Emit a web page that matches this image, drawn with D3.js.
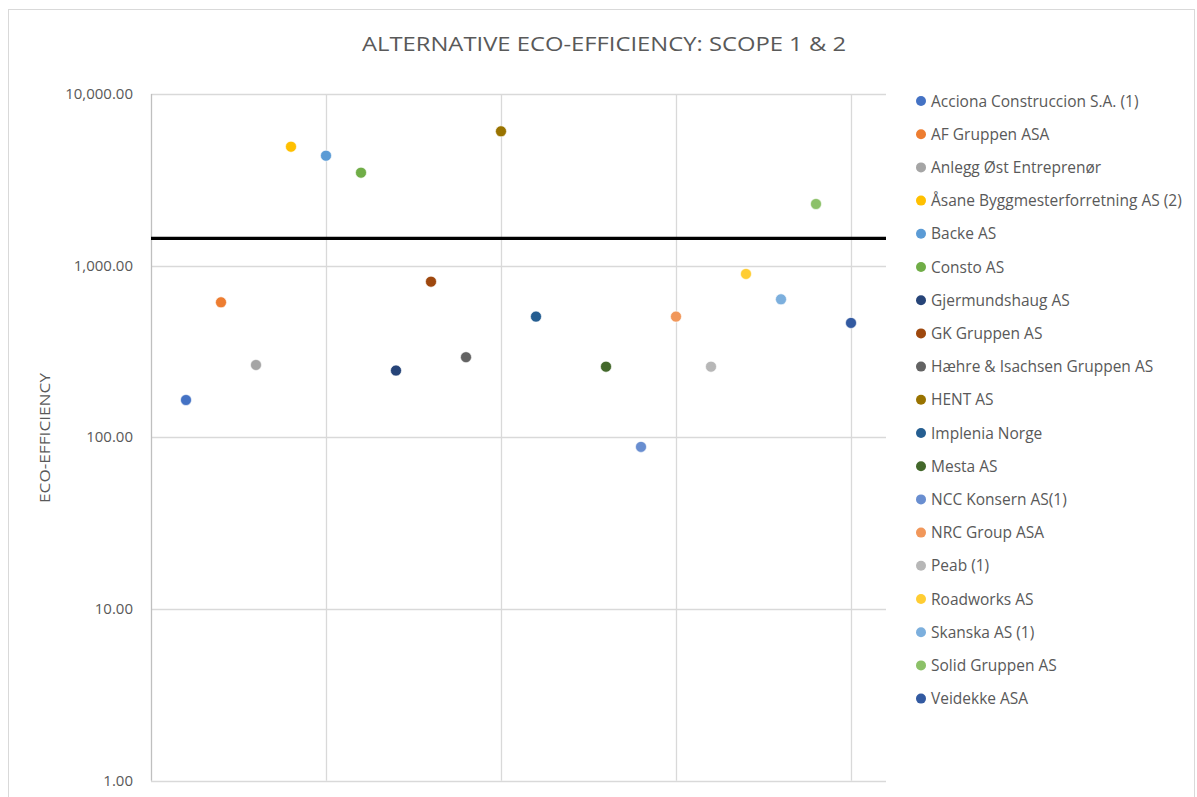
<!DOCTYPE html>
<html>
<head>
<meta charset="utf-8">
<script src="https://cdn.jsdelivr.net/npm/d3@7"></script>
<style>
  html, body { margin: 0; padding: 0; background: #fff; }
  svg { display: block; font-family: "Open Sans", "Noto Sans", sans-serif; }
</style>
</head>
<body>
<svg id="chart" width="1197" height="797"></svg>
<script>
// ---- data ----
const companies = [
  "Acciona Construccion S.A. (1)", "AF Gruppen ASA", "Anlegg Øst Entreprenør",
  "Åsane Byggmesterforretning AS (2)", "Backe AS", "Consto AS", "Gjermundshaug AS",
  "GK Gruppen AS", "Hæhre & Isachsen Gruppen AS", "HENT AS", "Implenia Norge",
  "Mesta AS", "NCC Konsern AS(1)", "NRC Group ASA", "Peab (1)", "Roadworks AS",
  "Skanska AS (1)", "Solid Gruppen AS", "Veidekke ASA"
];
const xIndex = [1, 2, 3, 4, 5, 6, 7, 8, 9, 10, 11, 13, 14, 15, 16, 17, 18, 19, 20];
const ecoEfficiency = [165, 612, 264, 4930, 4370, 3480, 245, 807, 293, 6065, 505,
                       258, 88, 505, 258, 895, 637, 2287, 464];
const seriesColors = [
  "#4472C4", "#ED7D31", "#A5A5A5", "#FFC000", "#5B9BD5", "#70AD47",
  "#264478", "#9E480E", "#636363", "#997300", "#255E91", "#43682B",
  "#698ED0", "#F1975A", "#B7B7B7", "#FFCD33", "#7CAFDD", "#8CC168", "#335AA1"
];
const thresholdValue = 1444;
const yTicks = [1, 10, 100, 1000, 10000];
const xGridTicks = [5, 10, 15, 20];
const titleText = "ALTERNATIVE ECO-EFFICIENCY: SCOPE 1 & 2";
const yAxisTitle = "ECO-EFFICIENCY";

// ---- layout ----
const svg = d3.select("#chart");
const plot = { left: 151, right: 886, top: 94, bottom: 780.7 };
const textColor = "#595959";
const gridColor = "#D9D9D9";

// chart border
svg.append("rect")
  .attr("x", 8.5).attr("y", 9.5).attr("width", 1186).attr("height", 800)
  .attr("fill", "#fff").attr("stroke", "#D9D9D9").attr("stroke-width", 1);

const x = d3.scaleLinear().domain([0, 21]).range([plot.left, plot.right]);
const y = d3.scaleLog().domain([1, 10000]).range([plot.bottom, plot.top]);

// horizontal gridlines
svg.append("g").selectAll("line").data(yTicks).join("line")
  .attr("x1", plot.left).attr("x2", plot.right)
  .attr("y1", d => Math.round(y(d)) + 0.5).attr("y2", d => Math.round(y(d)) + 0.5)
  .attr("stroke", gridColor).attr("stroke-width", 1.3);

// vertical gridlines
svg.append("g").selectAll("line").data(xGridTicks).join("line")
  .attr("x1", d => Math.round(x(d)) + 0.5).attr("x2", d => Math.round(x(d)) + 0.5)
  .attr("y1", plot.top).attr("y2", plot.bottom)
  .attr("stroke", gridColor).attr("stroke-width", 1.3);

// left axis line
svg.append("line")
  .attr("x1", Math.round(x(0)) + 0.5).attr("x2", Math.round(x(0)) + 0.5)
  .attr("y1", plot.top).attr("y2", plot.bottom)
  .attr("stroke", "#BFBFBF").attr("stroke-width", 1.3);

// y axis labels
const fmt = d3.format(",.2f");
svg.append("g").selectAll("text").data(yTicks).join("text")
  .attr("x", 133).attr("y", d => y(d) + 5)
  .attr("text-anchor", "end")
  .attr("font-size", 15).attr("fill", textColor)
  .text(d => fmt(d));

// y axis title
svg.append("text")
  .attr("transform", "translate(50,438) rotate(-90)")
  .attr("text-anchor", "middle")
  .attr("font-size", 15).attr("fill", textColor)
  .attr("textLength", 130).attr("lengthAdjust", "spacingAndGlyphs")
  .text(yAxisTitle);

// title
svg.append("text")
  .attr("x", 604).attr("y", 51)
  .attr("text-anchor", "middle")
  .attr("font-size", 20.5).attr("fill", textColor)
  .attr("textLength", 484).attr("lengthAdjust", "spacingAndGlyphs")
  .text(titleText);

// threshold line
svg.append("line")
  .attr("x1", plot.left).attr("x2", plot.right)
  .attr("y1", y(thresholdValue)).attr("y2", y(thresholdValue))
  .attr("stroke", "#000").attr("stroke-width", 3.2);

// points
const pts = companies.map((c, i) => ({ name: c, xi: xIndex[i], v: ecoEfficiency[i], color: seriesColors[i] }));
svg.append("g").selectAll("circle").data(pts).join("circle")
  .attr("cx", d => x(d.xi)).attr("cy", d => y(d.v))
  .attr("r", 5.5)
  .attr("fill", d => d.color)
  .attr("stroke", "#fff").attr("stroke-width", 0.6);

// legend
const legend = svg.append("g").selectAll("g").data(pts).join("g")
  .attr("transform", (d, i) => `translate(921, ${101 + i * 33.2})`);
legend.append("circle").attr("r", 5).attr("fill", d => d.color);
legend.append("text")
  .attr("x", 10).attr("y", 5.5)
  .attr("font-size", 15.5).attr("fill", textColor)
  .text(d => d.name);
</script>
</body>
</html>
